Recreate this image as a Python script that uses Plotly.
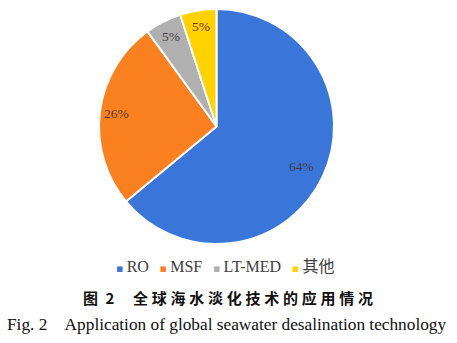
import math
import plotly.graph_objects as go

# Share of global seawater desalination capacity by technology
labels = ["RO", "MSF", "LT-MED", "其他"]
shares = [64, 26, 5, 5]
colors = ["#3A76DA", "#FA8020", "#B0B0B0", "#FFD200"]
label_colors = ["#3b3b4a", "#5a3a20", "#404040", "#7a2a10"]

W, H = 457, 343
cx, cy, r = 216.5, 126.5, 117.5  # pie centre and radius in pixels

fig = go.Figure(go.Pie(
    labels=labels,
    values=shares,
    sort=False,
    direction="clockwise",
    rotation=0,
    marker=dict(colors=colors, line=dict(color="white", width=2)),
    textinfo="none",
    hoverinfo="label+percent",
    showlegend=False,
    domain=dict(x=[(cx - r) / W, (cx + r) / W],
                y=[1 - (cy + r) / H, 1 - (cy - r) / H]),
))

# Percentage labels placed near the outer rim of each slice
total = sum(shares)
cum = 0
annotations = []
radial = [0.80, 0.86, 0.86, 0.86]
for lab, val, tc, k in zip(labels, shares, label_colors, radial):
    mid = (cum + val / 2) / total * 2 * math.pi
    cum += val
    px = cx + math.sin(mid) * r * k
    py = cy - math.cos(mid) * r * k
    annotations.append(dict(
        x=px / W, y=1 - py / H, xref="paper", yref="paper",
        xanchor="center", yanchor="middle",
        text=f"{val}%", showarrow=False,
        font=dict(family="Liberation Serif", size=13.5, color=tc),
    ))

# Legend row: small square swatch followed by the label
legend_parts = [
    f'<span style="color:{c};font-family:DejaVu Sans;font-size:11px">▪</span>\u2009{lab}'
    for lab, c in zip(labels, colors)
]
annotations.append(dict(
    x=225 / W, y=1 - 266 / H, xref="paper", yref="paper",
    xanchor="center", yanchor="middle",
    text="\u2002\u2006".join(legend_parts), showarrow=False,
    font=dict(family="Liberation Serif, Noto Sans CJK SC", size=16, color="#404040"),
))

# Figure captions
zh_title = "全球海水淡化技术的应用情况"
sp = "\u2005"
annotations.append(dict(
    x=228 / W, y=1 - 297 / H, xref="paper", yref="paper",
    xanchor="center", yanchor="middle",
    text="<b>图\u20022\u2003\u2005" + sp.join(zh_title) + "</b>", showarrow=False,
    font=dict(family="Noto Sans CJK SC", size=15, color="#111111"),
))
annotations.append(dict(
    x=226 / W, y=1 - 324 / H, xref="paper", yref="paper",
    xanchor="center", yanchor="middle",
    text="Fig. 2\u2003Application of global seawater desalination technology",
    showarrow=False,
    font=dict(family="Liberation Serif", size=17.3, color="#111111"),
))

fig.update_layout(
    width=W, height=H,
    margin=dict(l=0, r=0, t=0, b=0),
    paper_bgcolor="white",
    plot_bgcolor="white",
    annotations=annotations,
)

fig.write_html("out.html")
